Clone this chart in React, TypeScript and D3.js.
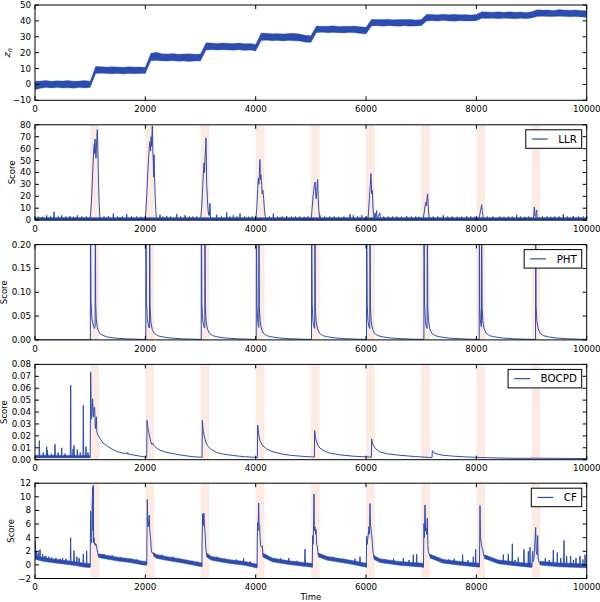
import React from 'react';
import * as d3 from 'd3';

type Row = [number, number, number] | null;
type Pt = [number, number];

const BLUE = '#2c4cb0';
const PINK = '#fdebe3';

const X_TICKS = [0, 2000, 4000, 6000, 8000, 10000];
const CHANGE_POINTS = [1000, 2000, 3000, 4000, 5000, 6000, 7000, 8000, 9000];
const SHADE_SPAN = 160;

// ---------- Panel 1: z_n (band envelope at 100-step) ----------
const Z_TIME = d3.range(0, 10001, 100);
const Z_LO = [
  -3.3, -2.4, -2.0, -2.2, -1.9, -2.3, -2.1, -2.4, -2.0, -2.2, -2.0,
  6.9, 7.0, 6.8, 6.7, 6.9, 6.6, 6.8, 6.7, 6.9, 6.8,
  14.9, 15.0, 14.8, 14.7, 14.9, 14.6, 14.8, 14.5, 14.7, 14.8,
  21.7, 21.8, 21.6, 21.9, 21.7, 21.5, 21.8, 21.4, 21.6, 21.0,
  27.6, 27.8, 27.5, 27.7, 27.4, 27.6, 27.5, 27.3, 26.6, 26.4,
  32.6, 32.8, 32.5, 32.7, 32.6, 32.4, 32.7, 32.5, 32.0, 31.8,
  36.8, 37.0, 36.7, 36.9, 36.8, 36.6, 36.9, 36.7, 36.8, 36.9,
  40.0, 40.1, 39.9, 40.2, 40.0, 39.8, 40.1, 39.9, 40.0, 40.1,
  41.6, 41.5, 41.7, 41.4, 41.6, 41.5, 41.3, 41.6, 41.4, 41.8,
  42.8, 42.9, 42.7, 42.8, 42.9, 42.7, 42.6, 42.8, 42.5, 42.3,
];
const Z_HI = [
  2.0, 2.2, 2.4, 2.0, 2.3, 2.1, 2.5, 2.0, 2.2, 2.4, 2.0,
  11.4, 11.2, 10.9, 11.1, 11.0, 10.8, 11.2, 10.9, 11.0, 10.8,
  19.6, 20.2, 19.3, 19.1, 19.4, 19.0, 19.2, 19.3, 19.0, 19.2,
  26.3, 26.0, 25.8, 26.1, 25.9, 25.7, 26.0, 25.6, 25.8, 25.2,
  32.4, 32.2, 31.9, 32.1, 31.8, 32.0, 32.2, 31.7, 30.9, 30.6,
  36.8, 36.6, 36.7, 36.9, 36.5, 36.7, 36.6, 36.8, 36.3, 36.0,
  41.0, 40.8, 40.9, 41.1, 40.7, 40.9, 40.8, 41.0, 40.6, 40.9,
  44.2, 44.0, 43.8, 44.1, 43.9, 44.2, 43.8, 44.0, 43.7, 44.0,
  45.8, 45.6, 45.5, 45.7, 45.4, 45.8, 45.5, 45.6, 45.3, 45.7,
  47.0, 46.8, 46.9, 46.6, 47.1, 46.8, 46.7, 46.9, 46.6, 46.4,
];

// ---------- Panel 2: LLR ----------
const LLR_BAND: Row[] = [[0, 0, 2.2], [10000, 0, 2.2]];
const LLR_SPIKES: Pt[] = [
  [60, 3], [130, 2.8], [212, 4], [280, 3], [345, 7], [420, 3], [483, 4], [560, 3], [635, 3.5], [700, 2.8], [768, 4], [850, 3], [930, 3],
  [1250, 3], [1330, 3.5], [1420, 5.5], [1500, 3], [1580, 3], [1662, 5], [1750, 3], [1843, 3], [1920, 2.8],
  [2266, 4.5], [2320, 3], [2387, 3.5], [2460, 3], [2568, 5], [2640, 3], [2719, 4], [2800, 3], [2860, 3], [2930, 3],
  [3293, 4.5], [3380, 3], [3474, 6.5], [3530, 3], [3595, 4], [3660, 3], [3716, 5.5], [3800, 3], [3870, 2.8], [3940, 3],
  [4250, 3], [4320, 5.5], [4400, 3], [4480, 3], [4562, 3.5], [4650, 3], [4720, 3], [4800, 3], [4880, 2.8], [4950, 3],
  [5250, 3], [5340, 3], [5420, 3], [5500, 2.8], [5600, 3], [5709, 5], [5770, 4], [5850, 3], [5921, 4],
  [6320, 3], [6400, 3], [6480, 3], [6560, 3], [6640, 2.8], [6736, 3.5], [6820, 3], [6900, 3], [6960, 2.8],
  [7220, 3], [7300, 3], [7401, 4], [7480, 3], [7560, 3], [7650, 2.8], [7730, 3], [7824, 3.5], [7900, 3], [7970, 2.8],
  [8200, 3], [8300, 3], [8428, 3], [8500, 2.8], [8580, 3], [8650, 3], [8730, 4.5], [8800, 3], [8880, 2.8], [8950, 3],
  [9200, 3], [9280, 3], [9350, 2.8], [9420, 3], [9500, 3], [9576, 5], [9650, 3], [9757, 3.5], [9850, 3], [9939, 3],
];
const LLR_PEAKS: Pt[][] = [
  [[995, 0], [1010, 6], [1030, 22], [1050, 45], [1065, 60], [1076, 64], [1082, 56], [1088, 68], [1095, 58], [1106, 52], [1115, 62], [1122, 70], [1130, 76], [1138, 60], [1148, 40], [1160, 18], [1172, 5], [1182, 0]],
  [[1995, 0], [2010, 8], [2030, 25], [2050, 45], [2070, 60], [2085, 66], [2095, 58], [2105, 70], [2115, 62], [2122, 74], [2127, 79], [2135, 60], [2145, 48], [2151, 36], [2158, 55], [2165, 40], [2178, 20], [2192, 6], [2205, 0]],
  [[3000, 0], [3020, 10], [3040, 28], [3055, 42], [3063, 48], [3072, 40], [3082, 52], [3092, 60], [3100, 69], [3106, 50], [3112, 30], [3125, 18], [3138, 8], [3150, 4], [3160, 4], [3172, 14], [3180, 2], [3190, 0]],
  [[4000, 0], [4020, 10], [4040, 28], [4048, 35], [4058, 30], [4068, 40], [4078, 51], [4086, 34], [4095, 38], [4108, 30], [4118, 22], [4130, 25], [4145, 18], [4160, 8], [4175, 3], [4190, 0]],
  [[5005, 0], [5020, 8], [5040, 20], [5060, 28], [5075, 32], [5085, 24], [5095, 18], [5105, 22], [5115, 30], [5123, 34], [5132, 20], [5145, 8], [5160, 2], [5166, 4], [5172, 0]],
  [[6030, 0], [6045, 6], [6060, 18], [6075, 28], [6085, 35], [6090, 39], [6097, 30], [6105, 22], [6115, 25], [6125, 12], [6135, 4], [6150, 1], [6165, 6], [6175, 2], [6193, 8], [6200, 1], [6253, 6], [6260, 0]],
  [[7030, 0], [7050, 5], [7070, 12], [7085, 15], [7095, 12], [7105, 18], [7117, 22], [7125, 14], [7135, 6], [7150, 1]],
  [[8040, 0], [8060, 4], [8075, 8], [8090, 11], [8096, 13], [8105, 8], [8118, 4], [8130, 0]],
  [[9030, 0], [9045, 6], [9051, 11], [9060, 4], [9075, 3], [9085, 7], [9093, 8.5], [9100, 2], [9110, 0]],
];

// ---------- Panel 3: PHT ----------
const PHT_LINE: Pt[] = [
  [0, 0], [1003, 0],
  [1005, 0.3], [1015, 0.08], [1030, 0.048], [1045, 0.036], [1057, 0.031], [1076, 0.024], [1090, 0.028], [1094, 0.3], [1100, 0.08], [1110, 0.045], [1130, 0.026], [1150, 0.019], [1178, 0.013], [1230, 0.0095], [1299, 0.0066], [1380, 0.0048], [1480, 0.0035], [1650, 0.0022], [1850, 0.0014], [2008, 0.001],
  [2010, 0.3], [2020, 0.08], [2035, 0.045], [2050, 0.034], [2062, 0.027], [2076, 0.025], [2078, 0.3], [2086, 0.07], [2100, 0.038], [2125, 0.022], [2160, 0.014], [2220, 0.009], [2300, 0.0065], [2450, 0.004], [2650, 0.0024], [2850, 0.0015], [3013, 0.001],
  [3015, 0.3], [3025, 0.075], [3040, 0.042], [3055, 0.031], [3068, 0.025], [3078, 0.026], [3080, 0.3], [3088, 0.07], [3100, 0.04], [3125, 0.023], [3160, 0.014], [3220, 0.009], [3300, 0.0065], [3450, 0.004], [3650, 0.0024], [3850, 0.0015], [4010, 0.001],
  [4012, 0.3], [4022, 0.075], [4035, 0.042], [4048, 0.03], [4056, 0.026], [4058, 0.3], [4066, 0.07], [4080, 0.04], [4105, 0.023], [4140, 0.014], [4200, 0.009], [4280, 0.0065], [4430, 0.004], [4630, 0.0024], [4830, 0.0015], [5012, 0.001],
  [5014, 0.3], [5024, 0.075], [5038, 0.04], [5055, 0.028], [5070, 0.024], [5074, 0.3], [5082, 0.07], [5095, 0.04], [5120, 0.023], [5155, 0.014], [5215, 0.009], [5300, 0.0065], [5450, 0.004], [5650, 0.0024], [5850, 0.0015], [6009, 0.001],
  [6011, 0.3], [6021, 0.075], [6035, 0.04], [6052, 0.028], [6068, 0.024], [6072, 0.3], [6080, 0.07], [6093, 0.04], [6118, 0.023], [6153, 0.014], [6213, 0.009], [6300, 0.0065], [6450, 0.004], [6650, 0.0024], [6850, 0.0015], [7049, 0.001],
  [7051, 0.3], [7061, 0.075], [7075, 0.04], [7092, 0.028], [7107, 0.024], [7111, 0.3], [7119, 0.07], [7132, 0.04], [7157, 0.023], [7192, 0.014], [7252, 0.009], [7340, 0.0065], [7490, 0.004], [7690, 0.0024], [7890, 0.0015], [8052, 0.001],
  [8054, 0.3], [8062, 0.07], [8072, 0.042], [8085, 0.03], [8093, 0.027], [8096, 0.3], [8104, 0.07], [8117, 0.04], [8142, 0.023], [8177, 0.014], [8237, 0.009], [8325, 0.0065], [8475, 0.004], [8675, 0.0024], [8875, 0.0015], [9073, 0.001],
  [9075, 0.3], [9083, 0.07], [9096, 0.04], [9121, 0.023], [9156, 0.014], [9216, 0.009], [9300, 0.0065], [9450, 0.004], [9650, 0.0024], [9850, 0.0015], [10000, 0.001],
];

// ---------- Panel 4: BOCPD ----------
const BOCPD_BAND: Row[] = [[0, 0.0015, 0.0038], [1000, 0.0015, 0.0036]];
const BOCPD_SPIKES: Pt[] = [
  [79, 0.016], [150, 0.006], [211, 0.011], [225, 0.008], [300, 0.005], [362, 0.013], [420, 0.006], [483, 0.010], [544, 0.005],
  [647, 0.0627], [690, 0.009], [707, 0.012], [767, 0.0085], [820, 0.006], [876, 0.0457], [924, 0.011], [960, 0.006],
];
const BOCPD_LINE: Pt[] = [
  [990, 0.0025], [1000, 0.0025], [1009, 0.0734], [1022, 0.034], [1033, 0.04], [1045, 0.051], [1055, 0.036], [1063, 0.036], [1072, 0.044], [1081, 0.044], [1094, 0.026], [1103, 0.03], [1112, 0.036], [1120, 0.024], [1130, 0.022], [1150, 0.02], [1178, 0.018], [1230, 0.014], [1299, 0.0118], [1400, 0.0088], [1480, 0.007], [1570, 0.0058], [1661, 0.005], [1675, 0.005], [1680, 0.0062], [1685, 0.0048], [1800, 0.0038], [1900, 0.003], [2025, 0.0021],
  [2030, 0.033], [2050, 0.026], [2070, 0.021], [2085, 0.018], [2100, 0.015], [2115, 0.013], [2133, 0.014], [2145, 0.012], [2157, 0.012], [2200, 0.0098], [2266, 0.008], [2380, 0.0062], [2507, 0.005], [2700, 0.0035], [2850, 0.0026], [3028, 0.002],
  [3033, 0.033], [3050, 0.024], [3065, 0.02], [3082, 0.017], [3110, 0.013], [3142, 0.011], [3200, 0.0085], [3293, 0.006], [3420, 0.0046], [3595, 0.0035], [3800, 0.0025], [4031, 0.0019],
  [4036, 0.029], [4055, 0.021], [4078, 0.016], [4120, 0.012], [4199, 0.009], [4320, 0.0065], [4501, 0.0045], [4650, 0.0036], [4804, 0.003], [5064, 0.0022],
  [5069, 0.0245], [5085, 0.018], [5105, 0.015], [5130, 0.012], [5166, 0.0096], [5250, 0.0072], [5347, 0.0055], [5500, 0.0042], [5709, 0.0032], [5850, 0.0027], [6097, 0.0022],
  [6102, 0.0175], [6115, 0.014], [6132, 0.012], [6180, 0.009], [6253, 0.0065], [6400, 0.0048], [6616, 0.0037], [6900, 0.0026], [7197, 0.0018],
  [7202, 0.0076], [7232, 0.0057], [7300, 0.0046], [7401, 0.0037], [7600, 0.0029], [7824, 0.0023], [8100, 0.0018], [8428, 0.0014], [8700, 0.0012], [8995, 0.0011], [9000, 0.0016], [9010, 0.0013], [9500, 0.0011], [10000, 0.001],
];

// ---------- Panel 5: CF ----------
const CF_BAND: Row[] = [
  [0, 0.87, 1.43], [50, 0.72, 1.28], [150, 0.52, 1.08], [300, 0.35, 0.9], [450, 0.2, 0.75], [600, 0.05, 0.6], [750, -0.13, 0.43], [900, -0.33, 0.23], [1000, -0.38, 0.18], null,
  [1150, 1.07, 1.63], [1300, 0.85, 1.4], [1500, 0.57, 1.13], [1750, 0.32, 0.88], [1950, 0, 0.55], [2025, -0.05, 0.5], null,
  [2150, 1.27, 1.83], [2200, 0.97, 1.53], [2400, 0.65, 1.2], [2700, 0.25, 0.8], [3000, -0.25, 0.3], [3025, -0.25, 0.3], null,
  [3110, 1.17, 1.73], [3200, 0.67, 1.23], [3500, 0.25, 0.8], [3800, -0.05, 0.5], [4025, -0.45, 0.1], null,
  [4130, 1.17, 1.73], [4300, 0.45, 1.0], [4600, 0.05, 0.6], [4900, -0.23, 0.33], [5025, -0.33, 0.23], null,
  [5135, 1.17, 1.73], [5300, 0.67, 1.23], [5700, 0.15, 0.7], [6005, -0.33, 0.23], null,
  [6144, 0.82, 1.38], [6250, 0.35, 0.9], [6600, -0.05, 0.5], [7040, -0.33, 0.23], null,
  [7159, 1.02, 1.58], [7400, 0.25, 0.8], [7750, -0.1, 0.45], [8055, -0.33, 0.23], null,
  [8144, 0.92, 1.48], [8400, 0.17, 0.73], [8700, -0.13, 0.43], [9005, -0.38, 0.18], null,
  [9153, -0.03, 0.53], [9500, -0.28, 0.28], [10000, -0.43, 0.13],
];
const CF_SPIKES: Pt[] = [
  [5, 3.6], [30, 2.0], [60, 1.8], [91, 2.25], [139, 1.6], [170, 1.3], [200, 1.3], [250, 1.2], [302, 1.1], [380, 1.0], [453, 0.9], [500, 1.0], [560, 0.9], [646, 4.0], [707, 2.1], [760, 1.2], [800, 1.0], [876, 1.6], [936, 2.1],
  [1250, 1.6], [1400, 1.4], [1550, 1.1], [1650, 0.9], [1850, 0.8], [2300, 1.5], [2500, 1.2], [2600, 1.0], [2850, 0.6], [2950, 0.5],
  [3300, 1.2], [3450, 0.9], [3650, 0.8], [3780, 1.0], [3900, 0.5],
  [4450, 1.0], [4600, 1.0], [4750, 0.6], [4894, 2.3], [5400, 1.2], [5600, 0.9], [5800, 0.9], [5891, 1.2],
  [6350, 0.8], [6500, 0.9], [6676, 1.0], [6780, 0.7], [6857, 1.5], [6918, 1.6],
  [7300, 1.0], [7500, 0.8], [7600, 0.9], [7751, 1.5], [7850, 0.7], [7945, 1.2], [7987, 2.3],
  [8250, 1.1], [8307, 1.0], [8489, 1.5], [8579, 1.6], [8652, 3.1], [8700, 0.7], [8760, 1.1], [8863, 2.3], [8942, 2.0], [8972, 2.6],
  [9250, 1.0], [9320, 0.7], [9395, 2.2], [9467, 1.8], [9530, 1.0], [9588, 3.6], [9636, 1.3], [9709, 1.3], [9760, 0.7], [9806, 1.0], [9878, 1.3], [9930, 0.8], [9969, 1.5],
];
const CF_PEAKS: Pt[][] = [
  [[990, -0.3], [1000, -0.2], [1005, 5], [1009, 7.9], [1014, 4], [1020, 3.2], [1027, 3.3], [1035, 8], [1045, 11.4], [1050, 5], [1057, 11.7], [1062, 3.3], [1070, 4], [1080, 3.0], [1088, 3.2], [1100, 2.8], [1110, 3.0], [1120, 2.5], [1135, 1.8], [1150, 1.35]],
  [[2025, 0.1], [2030, 5], [2036, 9.6], [2045, 6], [2054, 5.6], [2062, 6.5], [2072, 7.3], [2080, 5], [2096, 3.9], [2105, 2.5], [2115, 1.9], [2140, 1.6], [2155, 1.55]],
  [[3025, -0.3], [3030, 4], [3039, 7.5], [3045, 6.5], [3051, 5.8], [3057, 7.2], [3063, 7.6], [3070, 6], [3081, 4.9], [3095, 2.5], [3112, 1.45]],
  [[4025, -0.3], [4030, 4], [4036, 6.2], [4043, 5], [4054, 9.1], [4062, 6], [4072, 5.8], [4080, 4], [4090, 2.8], [4100, 2.7], [4108, 2.6], [4120, 2.8], [4130, 1.6], [4139, 1.45]],
  [[5025, -0.4], [5033, 4.3], [5040, 3], [5050, 6], [5057, 10.4], [5063, 5], [5075, 5.6], [5085, 4.5], [5095, 5.2], [5105, 3], [5117, 2.8], [5125, 2], [5135, 1.45]],
  [[6005, -0.4], [6011, 4.2], [6020, 3], [6035, 4], [6054, 5.6], [6062, 4.5], [6072, 9.0], [6080, 6], [6090, 5.4], [6100, 4.5], [6114, 3.4], [6125, 2], [6144, 1.1]],
  [[7040, -0.4], [7051, 6.1], [7058, 4], [7069, 8.8], [7078, 5], [7087, 5.4], [7100, 4.5], [7111, 6.9], [7120, 3], [7129, 2.0], [7145, 1.6], [7159, 1.3]],
  [[8055, -0.3], [8060, 3], [8066, 8.7], [8074, 4], [8084, 3.5], [8095, 2.8], [8114, 2.3], [8130, 1.5], [8144, 1.2]],
  [[9005, -0.3], [9020, 2.0], [9030, 0.5], [9045, 1], [9060, 3], [9075, 5.5], [9085, 2], [9100, 1.5], [9111, 4.3], [9120, 1], [9140, 0.3], [9153, 0.25]],
];

// ---------- layout ----------
const W = 600;
const H = 602;
const X0 = 35;
const X1 = 586.7;
const PANEL_TOPS = [5, 124.8, 244.6, 364.4, 483.2];
const PANEL_H = 95.3;
const TICK_FONT = 8.7;
const LABEL_FONT = 8.5;
const LEGEND_FONT = 10.3;
const FONT = '"DejaVu Sans", sans-serif';

const xScale = d3.scaleLinear().domain([0, 10000]).range([X0, X1]);

const intFmt = d3.format('d');
const f2 = d3.format('.2f');

type PanelCfg = {
  id: string;
  domain: [number, number];
  ticks: number[];
  fmt: (v: number) => string;
  label: 'z' | 'Score';
  labelX: number;
  legend: string | null;
  shade: boolean;
  band: Row[];
  bandStroke: number;
  spikes: Pt[];
  lines: Pt[][];
};

const Z_BAND: Row[] = Z_TIME.map((t, i) => [t, Z_LO[i], Z_HI[i]] as Row);

const PANELS: PanelCfg[] = [
  { id: 'z', domain: [-10, 50], ticks: [-10, 0, 10, 20, 30, 40, 50], fmt: intFmt, label: 'z', labelX: 7, legend: null, shade: false, band: Z_BAND, bandStroke: 0.3, spikes: [], lines: [] },
  { id: 'llr', domain: [0, 80], ticks: [0, 10, 20, 30, 40, 50, 60, 70, 80], fmt: intFmt, label: 'Score', labelX: 12.5, legend: 'LLR', shade: true, band: LLR_BAND, bandStroke: 0.3, spikes: LLR_SPIKES, lines: LLR_PEAKS },
  { id: 'pht', domain: [0, 0.2], ticks: [0, 0.05, 0.1, 0.15, 0.2], fmt: f2, label: 'Score', labelX: 4.5, legend: 'PHT', shade: true, band: [], bandStroke: 0, spikes: [], lines: [PHT_LINE] },
  { id: 'bocpd', domain: [0, 0.08], ticks: [0, 0.01, 0.02, 0.03, 0.04, 0.05, 0.06, 0.07, 0.08], fmt: f2, label: 'Score', labelX: 4.5, legend: 'BOCPD', shade: true, band: BOCPD_BAND, bandStroke: 0.3, spikes: BOCPD_SPIKES, lines: [BOCPD_LINE] },
  { id: 'cf', domain: [-2, 12], ticks: [-2, 0, 2, 4, 6, 8, 10, 12], fmt: intFmt, label: 'Score', labelX: 11.5, legend: 'CF', shade: true, band: CF_BAND, bandStroke: 0.5, spikes: CF_SPIKES, lines: CF_PEAKS },
];

function measure(text: string, size: number): number {
  try {
    const ctx = document.createElement('canvas').getContext('2d');
    if (ctx) {
      ctx.font = `${size}px "DejaVu Sans"`;
      return ctx.measureText(text).width;
    }
  } catch (e) {}
  return text.length * size * 0.68;
}

function bandCenterAt(band: Row[], t: number): number {
  const rows = band.filter((r) => r !== null) as [number, number, number][];
  if (!rows.length) return 0;
  for (let i = 0; i < rows.length - 1; i++) {
    const a = rows[i], b = rows[i + 1];
    if (t >= a[0] && t <= b[0]) {
      const k = b[0] === a[0] ? 0 : (t - a[0]) / (b[0] - a[0]);
      return ((a[1] + a[2]) / 2) * (1 - k) + ((b[1] + b[2]) / 2) * k;
    }
  }
  let best = rows[0];
  let dmin = Infinity;
  for (const r of rows) {
    const d = Math.abs(r[0] - t);
    if (d < dmin) { dmin = d; best = r; }
  }
  return (best[1] + best[2]) / 2;
}

function Panel({ cfg, top }: { cfg: PanelCfg; top: number }) {
  const bottom = top + PANEL_H;
  const y = d3.scaleLinear().domain(cfg.domain).range([bottom, top]);
  const clipId = `clip-${cfg.id}`;

  const area = d3.area<Row>()
    .defined((d) => d !== null)
    .x((d) => xScale((d as any)[0]))
    .y0((d) => y((d as any)[1]))
    .y1((d) => y((d as any)[2]));

  const line = d3.line<Pt>().x((d) => xScale(d[0])).y((d) => y(d[1]));

  const spikePaths = cfg.spikes.map((s) => {
    const base = bandCenterAt(cfg.band, s[0]);
    return line([[s[0] - 7, base], [s[0], s[1]], [s[0] + 7, base]]);
  });

  const legendW = cfg.legend ? 32.5 + measure(cfg.legend, LEGEND_FONT) + 4.8 : 0;
  const legendH = 18.5;
  const lgRight = X1 - 5;
  const lgLeft = lgRight - legendW;
  const lgTop = top + 5;
  const midY = (top + bottom) / 2;

  return (
    <g>
      <defs>
        <clipPath id={clipId}>
          <rect x={X0} y={top} width={X1 - X0} height={PANEL_H} />
        </clipPath>
      </defs>
      <g clipPath={`url(#${clipId})`}>
        {cfg.shade && CHANGE_POINTS.map((c) => (
          <rect key={c} x={xScale(c)} y={top} width={xScale(c + SHADE_SPAN) - xScale(c)} height={PANEL_H} fill={PINK} />
        ))}
        {cfg.band.length > 0 && (
          <path d={area(cfg.band) || ''} fill={BLUE} stroke={BLUE} strokeWidth={cfg.bandStroke} strokeLinejoin="round" />
        )}
        {spikePaths.map((p, i) => (
          <path key={'s' + i} d={p || ''} fill="none" stroke={BLUE} strokeWidth={1} />
        ))}
        {cfg.lines.map((l, i) => (
          <path key={'l' + i} d={line(l) || ''} fill="none" stroke={BLUE} strokeWidth={1} strokeLinejoin="round" />
        ))}
      </g>
      <rect x={X0} y={top} width={X1 - X0} height={PANEL_H} fill="none" stroke="#000" strokeWidth={1} />
      {X_TICKS.map((t) => {
        const xx = xScale(t);
        return (
          <g key={'x' + t}>
            <line x1={xx} x2={xx} y1={bottom} y2={bottom - 4} stroke="#000" strokeWidth={1} />
            <line x1={xx} x2={xx} y1={top} y2={top + 4} stroke="#000" strokeWidth={1} />
            <text x={xx} y={bottom + 11.6} textAnchor="middle" fontSize={TICK_FONT} fontFamily={FONT} fill="#000">{intFmt(t)}</text>
          </g>
        );
      })}
      {cfg.ticks.map((t) => {
        const yy = y(t);
        return (
          <g key={'y' + t}>
            <line x1={X0} x2={X0 + 4} y1={yy} y2={yy} stroke="#000" strokeWidth={1} />
            <line x1={X1} x2={X1 - 4} y1={yy} y2={yy} stroke="#000" strokeWidth={1} />
            <text x={X0 - 4} y={yy} dy="0.35em" textAnchor="end" fontSize={TICK_FONT} fontFamily={FONT} fill="#000">{cfg.fmt(t)}</text>
          </g>
        );
      })}
      {cfg.label === 'z' ? (
        <text transform={`translate(${cfg.labelX},${midY}) rotate(-90)`} textAnchor="middle" dy="0.3em" fontSize={9.5} fontFamily={FONT} fill="#000">
          <tspan fontStyle="italic">z</tspan>
          <tspan fontStyle="italic" fontSize={6.5} dy="2">n</tspan>
        </text>
      ) : (
        <text transform={`translate(${cfg.labelX},${midY}) rotate(-90)`} textAnchor="middle" dy="0.35em" fontSize={LABEL_FONT} fontFamily={FONT} fill="#000">Score</text>
      )}
      {cfg.legend && (
        <g>
          <rect x={lgLeft} y={lgTop} width={legendW} height={legendH} fill="#fff" stroke="#000" strokeWidth={1} />
          <line x1={lgLeft + 6} x2={lgLeft + 22} y1={lgTop + legendH / 2} y2={lgTop + legendH / 2} stroke={BLUE} strokeWidth={1.2} />
          <text x={lgLeft + 32.5} y={lgTop + legendH / 2} dy="0.36em" fontSize={LEGEND_FONT} fontFamily={FONT} fill="#000">{cfg.legend}</text>
        </g>
      )}
    </g>
  );
}

export default function App() {
  return (
    <svg width={W} height={H} viewBox={`0 0 ${W} ${H}`} style={{ position: 'absolute', left: 0, top: 0, display: 'block', background: '#fff' }}>
      <rect x={0} y={0} width={W} height={H} fill="#fff" />
      {PANELS.map((p, i) => (
        <Panel key={p.id} cfg={p} top={PANEL_TOPS[i]} />
      ))}
      <text x={(X0 + X1) / 2} y={600} textAnchor="middle" fontSize={LABEL_FONT} fontFamily={FONT} fill="#000">Time</text>
    </svg>
  );
}
